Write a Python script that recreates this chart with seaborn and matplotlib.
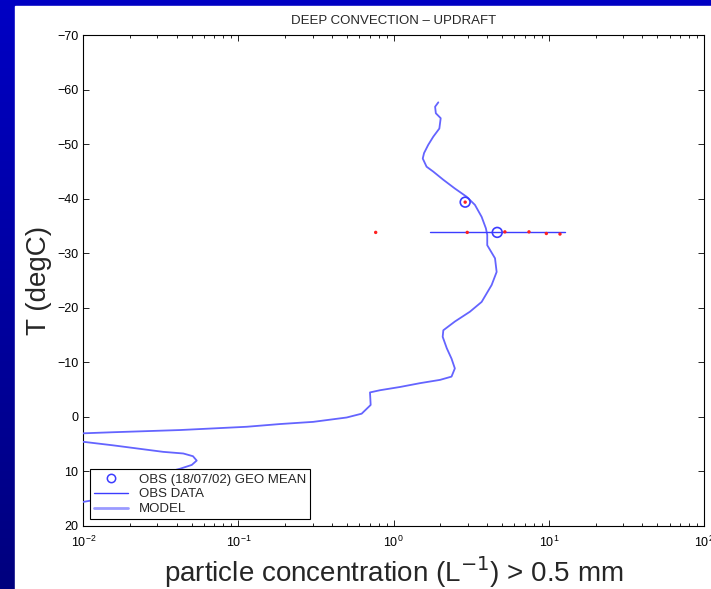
import numpy as np
import pandas as pd
import matplotlib
matplotlib.use("Agg")
import matplotlib.pyplot as plt
from matplotlib.patches import Rectangle
from matplotlib.lines import Line2D
from matplotlib.colors import LinearSegmentedColormap
import seaborn as sns

# ---------------- data ----------------
model_conc = [1.94, 1.85, 1.87, 2.01, 1.97, 1.80, 1.67, 1.57, 1.54, 1.63, 1.80, 2.09,
              2.48, 2.95, 3.34, 3.69, 3.93, 4.01, 4.01, 4.50, 4.61, 4.28, 3.69, 3.10,
              2.48, 2.09, 2.07, 2.20, 2.36, 2.48, 2.36, 1.99, 1.48, 1.10, 0.816, 0.704,
              0.711, 0.622, 0.498, 0.303, 0.185, 0.113, 0.042, 0.0156, 0.0100, 0.0080,
              0.0070, 0.0080, 0.0103, 0.0155, 0.0327, 0.0441, 0.0509, 0.0538, 0.0500,
              0.0420, 0.0320, 0.0210, 0.0140, 0.0114, 0.0090]
model_temp = [-57.7, -56.9, -55.7, -54.8, -52.9, -51.4, -49.9, -48.4, -47.4, -45.9, -45.0, -43.5,
              -41.9, -40.4, -38.9, -36.7, -34.6, -33.4, -31.5, -29.1, -26.6, -24.2, -21.1, -19.3,
              -17.5, -15.9, -14.7, -12.6, -10.7, -8.9, -7.4, -6.8, -6.2, -5.5, -4.9, -4.5,
              -2.2, -0.6, 0.1, 0.9, 1.3, 1.8, 2.4, 2.8, 3.0, 3.4,
              3.9, 4.3, 4.6, 5.2, 6.4, 6.7, 7.2, 8.0, 8.8,
              9.5, 10.4, 12.0, 14.0, 15.3, 15.8]

obs_conc = [0.766, 2.98, 5.21, 7.45, 9.64, 11.8, 2.89]
obs_temp = [-33.85, -33.85, -33.95, -33.95, -33.65, -33.55, -39.4]

geo_mean_conc = [4.65, 2.89]
geo_mean_temp = [-33.85, -39.4]

range_conc = [1.71, 12.7]
range_temp = [-33.85, -33.85]

title = "DEEP CONVECTION \u2013 UPDRAFT"
xlabel = "particle concentration (L$^{-1}$) > 0.5 mm"
ylabel = "T (degC)"
legend_labels = ["OBS (18/07/02) GEO MEAN", "OBS DATA", "MODEL"]
yticks = [-70, -60, -50, -40, -30, -20, -10, 0, 10, 20]

# ---------------- style ----------------
sns.set_style("ticks")
plt.rcParams["font.family"] = ["Liberation Sans", "DejaVu Sans"]
plt.rcParams["xtick.direction"] = "in"
plt.rcParams["ytick.direction"] = "in"

W, H = 711, 589
fig = plt.figure(figsize=(W / 100, H / 100), dpi=100)

# slide background: blue gradient + white panel
bg = fig.add_axes([0, 0, 1, 1], zorder=-10)
grad = np.linspace(0, 1, 256).reshape(-1, 1)
cm = LinearSegmentedColormap.from_list("slide", ["#0000c4", "#00007e"])
bg.imshow(grad, extent=[0, 1, 0, 1], aspect="auto", cmap=cm, origin="upper")
bg.add_patch(Rectangle((15 / W, 0), 1, (H - 6) / H, color="white", transform=bg.transAxes))
bg.set_xlim(0, 1)
bg.set_ylim(0, 1)
bg.axis("off")

ax = fig.add_axes([83.3 / W, 63 / H, 620.7 / W, 490.7 / H])
ax.set_facecolor("white")

model_df = pd.DataFrame({"conc": model_conc, "temp": model_temp})
obs_df = pd.DataFrame({"conc": obs_conc, "temp": obs_temp})
gm_df = pd.DataFrame({"conc": geo_mean_conc, "temp": geo_mean_temp})
rng_df = pd.DataFrame({"conc": range_conc, "temp": range_temp})

model_color = "#6464ff"
obs_color = "#3c3cff"

sns.lineplot(data=model_df, x="conc", y="temp", sort=False, estimator=None,
             color=model_color, lw=1.3, ax=ax, zorder=3)
sns.lineplot(data=rng_df, x="conc", y="temp", sort=False, estimator=None,
             color=obs_color, lw=1.0, ax=ax, zorder=3)
sns.scatterplot(data=gm_df, x="conc", y="temp", marker="o", s=50,
                facecolor="none", edgecolor=obs_color, linewidth=1.2, ax=ax, zorder=4)
sns.scatterplot(data=obs_df, x="conc", y="temp", marker="o", s=6,
                color="#ff2020", edgecolor="none", ax=ax, zorder=5)

ax.set_xscale("log")
ax.set_xlim(1e-2, 1e2)
ax.set_ylim(20, -70)
ax.set_yticks(yticks)

for s in ax.spines.values():
    s.set_visible(True)
    s.set_color("black")
    s.set_linewidth(0.8)

ax.tick_params(which="both", top=True, right=True, direction="in",
               colors="black", labelsize=9, width=0.6)
ax.tick_params(which="major", length=4)
ax.tick_params(which="minor", length=2.5)
ax.tick_params(axis="x", pad=6)

ax.set_title(title, fontsize=9.5, pad=8)
ax.set_xlabel(xlabel, fontsize=20, labelpad=3)
ax.set_ylabel(ylabel, fontsize=20, labelpad=4)

handles = [
    Line2D([], [], ls="none", marker="o", mfc="none", mec=obs_color, ms=6, mew=1.1),
    Line2D([], [], color=obs_color, lw=1.0),
    Line2D([], [], color="#9a9aff", lw=2.0),
]
leg = ax.legend(handles, legend_labels, loc="lower left",
                bbox_to_anchor=(0.0108, 0.0137), borderaxespad=0,
                fontsize=9.5, frameon=True, fancybox=False, framealpha=1,
                edgecolor="black", handlelength=2.6, labelspacing=0.2,
                borderpad=0.3, handletextpad=0.8)
leg.get_frame().set_linewidth(0.8)
leg.set_zorder(10)

fig.savefig("out.png", dpi=100)
